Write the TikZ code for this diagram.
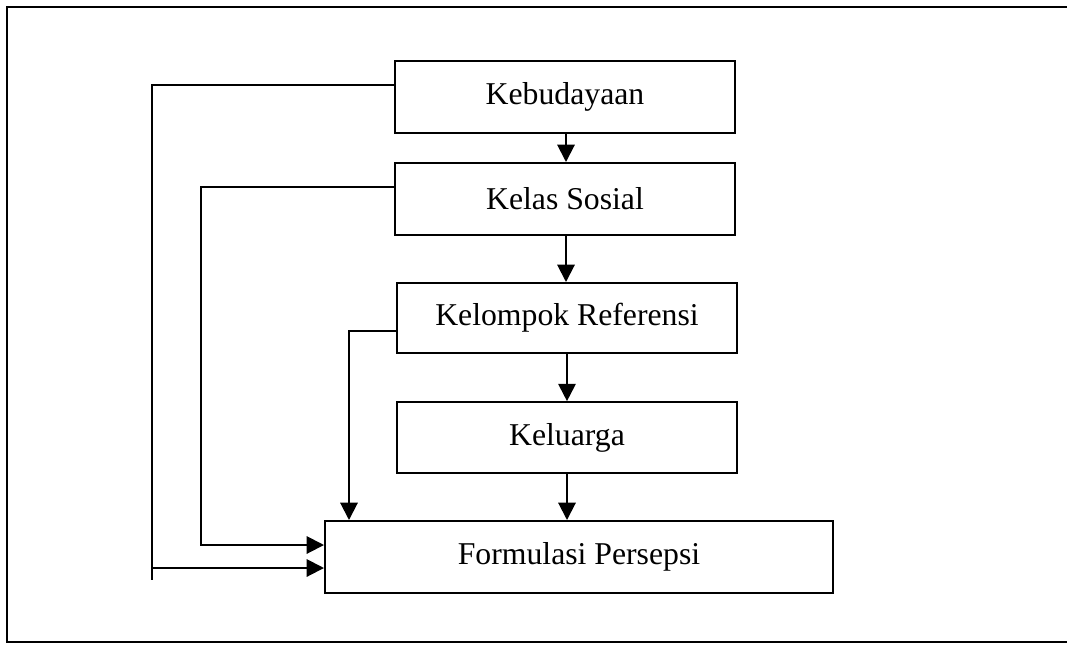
\documentclass[tikz,border=0pt]{standalone}
\usepackage{fontspec}
\setmainfont{Liberation Serif}
\usetikzlibrary{arrows.meta}
\begin{document}
\begin{tikzpicture}[x=0.75pt,y=-0.75pt,
  box/.style={draw=black, line width=1.5pt, inner sep=0pt, minimum height=54pt, minimum width=255pt,
    font=\fontsize{23.8pt}{28pt}\selectfont},
  ln/.style={draw=black, line width=1.5pt},
  arr/.style={ln, -{Triangle[length=13pt,width=13pt]}}]
\useasboundingbox (0,0) rectangle (1067,644);
\draw[ln] (1067,7) -- (7,7) -- (7,642) -- (1067,642);
\node[box] (keb) at (565,97) {Kebudayaan};
\node[box] (kel) at (565,199) {Kelas Sosial};
\node[box, minimum height=52.5pt] (ref) at (567,318) {Kelompok Referensi};
\node[box, minimum height=53pt] (klg) at (567,437.5) {Keluarga};
\node[box, minimum width=381pt] (for) at (579,557) {Formulasi Persepsi};
% vertical arrows
\draw[arr] (keb.south -| 566,0) -- (kel.north -| 566,0);
\draw[arr] (kel.south -| 566,0) -- (ref.north -| 566,0);
\draw[arr] (ref.south -| 567,0) -- (klg.north -| 567,0);
\draw[arr] (klg.south -| 567,0) -- (for.north -| 567,0);
% left feedback lines
\coordinate (c1) at (152,580);
\draw[ln] (keb.west |- 0,85) -- (152,85) -- (c1);
\draw[arr] (152,568) -- (for.west |- 0,568);
\draw[arr] (kel.west |- 0,187) -- (201,187) -- (201,545) -- (for.west |- 0,545);
\draw[arr] (ref.west |- 0,331) -- (349,331) -- (for.north -| 349,0);
\end{tikzpicture}
\end{document}
